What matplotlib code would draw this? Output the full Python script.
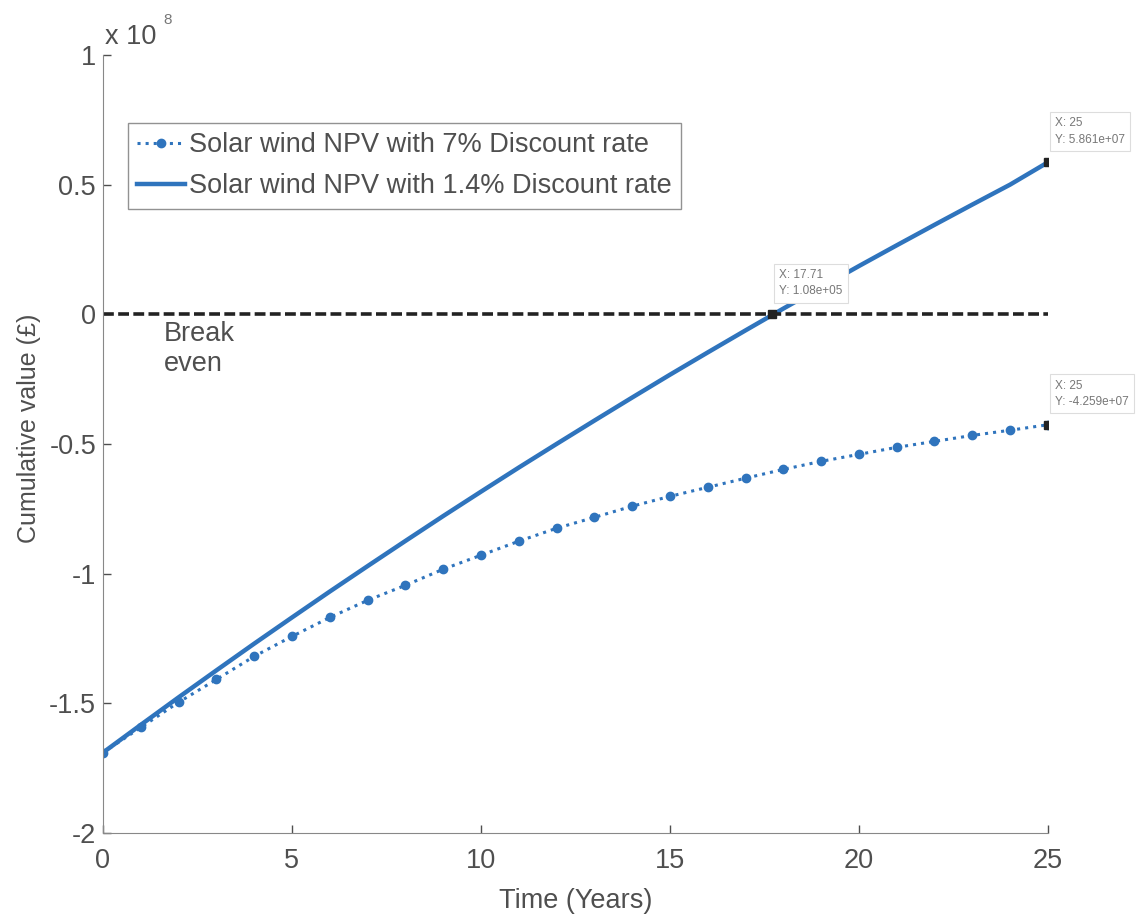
import numpy as np
import matplotlib.pyplot as plt
from matplotlib.ticker import FuncFormatter

# cumulative value (in pounds)
years = np.arange(0, 26)
npv_7 = np.array([-1.690, -1.593, -1.496, -1.408, -1.319, -1.242, -1.169, -1.103,
                  -1.045, -0.983, -0.929, -0.875, -0.825, -0.783, -0.740, -0.702,
                  -0.667, -0.632, -0.598, -0.567, -0.540, -0.513, -0.490, -0.467,
                  -0.447, -0.4259]) * 1e8
npv_14 = np.array([-1.690, -1.583, -1.477, -1.373, -1.270, -1.169, -1.069, -0.971,
                   -0.874, -0.778, -0.684, -0.591, -0.500, -0.410, -0.321, -0.233,
                   -0.147, -0.062, 0.022, 0.104, 0.186, 0.266, 0.345, 0.423,
                   0.500, 0.5861]) * 1e8
break_even = np.zeros_like(years, dtype=float)

# data tips shown on the chart
tips_x = [17.71, 25, 25]
tips_y = [1.08e5, 5.861e7, -4.259e7]
tips_txt = ["X: 17.71\nY: 1.08e+05", "X: 25\nY: 5.861e+07", "X: 25\nY: -4.259e+07"]

blue = "#2f74bd"
grey = "#4f4f4f"
fs = 19.5
plt.rcParams['font.family'] = ['Liberation Sans', 'DejaVu Sans']

fig = plt.figure(figsize=(11.39, 9.16), dpi=100)
ax = fig.add_axes([0.0904, 0.0906, 0.8296, 0.8494])

ax.plot(years, npv_7, color=blue, linestyle=':', linewidth=2.2, marker='o',
        markersize=6, label="Solar wind NPV with 7% Discount rate")
ax.plot(years, npv_14, color=blue, linestyle='-', linewidth=3.2,
        label="Solar wind NPV with 1.4% Discount rate")
ax.plot(years, break_even, color='#222222', linestyle=(0, (3, 1.2)), linewidth=2.6)

ax.plot(tips_x, tips_y, linestyle='none', marker='s', markersize=6, color='#222222')
for x, y, t in zip(tips_x, tips_y, tips_txt):
    ax.annotate(t, (x, y), xytext=(5, 12), textcoords='offset points',
                fontsize=8.5, color='#777777', ha='left', va='bottom',
                linespacing=1.5,
                bbox=dict(boxstyle='square,pad=0.45', fc='white', ec='#dddddd', lw=0.8),
                annotation_clip=False)

ax.text(1.6, -0.025e8, "Break\neven", fontsize=fs, color=grey, va='top', ha='left',
        linespacing=1.22)

ax.set_xlim(0, 25)
ax.set_ylim(-2e8, 1e8)
ax.set_xticks([0, 5, 10, 15, 20, 25])
ax.set_yticks(np.arange(-2, 1.01, 0.5) * 1e8)
ax.yaxis.set_major_formatter(FuncFormatter(lambda v, p: f"{v / 1e8:g}"))
ax.tick_params(direction='in', labelsize=fs, colors=grey, length=6, width=1)
ax.tick_params(axis='x', pad=11)
ax.tick_params(axis='y', pad=5)
for s in ['top', 'right']:
    ax.spines[s].set_visible(False)
for s in ['left', 'bottom']:
    ax.spines[s].set_color('#888888')

ax.text(0.002, 1.006, r"x 10", transform=ax.transAxes, fontsize=fs, color=grey,
        ha='left', va='bottom')
ax.text(0.064, 1.036, "8", transform=ax.transAxes, fontsize=11, color='#777777',
        ha='left', va='bottom')

ax.set_xlabel("Time (Years)", fontsize=fs, color=grey, labelpad=10)
ax.set_ylabel("Cumulative value (£)", fontsize=18, color=grey, labelpad=10)
ax.yaxis.set_label_coords(-0.066, 0.52)

leg = ax.legend(loc='upper left', bbox_to_anchor=(0.0265, 0.9126), fontsize=fs,
                frameon=True, fancybox=False, edgecolor='#777777',
                handlelength=1.75, handletextpad=0.15, borderpad=0.35,
                labelspacing=0.55, borderaxespad=0)
for t in leg.get_texts():
    t.set_color(grey)

fig.savefig("out.png", dpi=100)
